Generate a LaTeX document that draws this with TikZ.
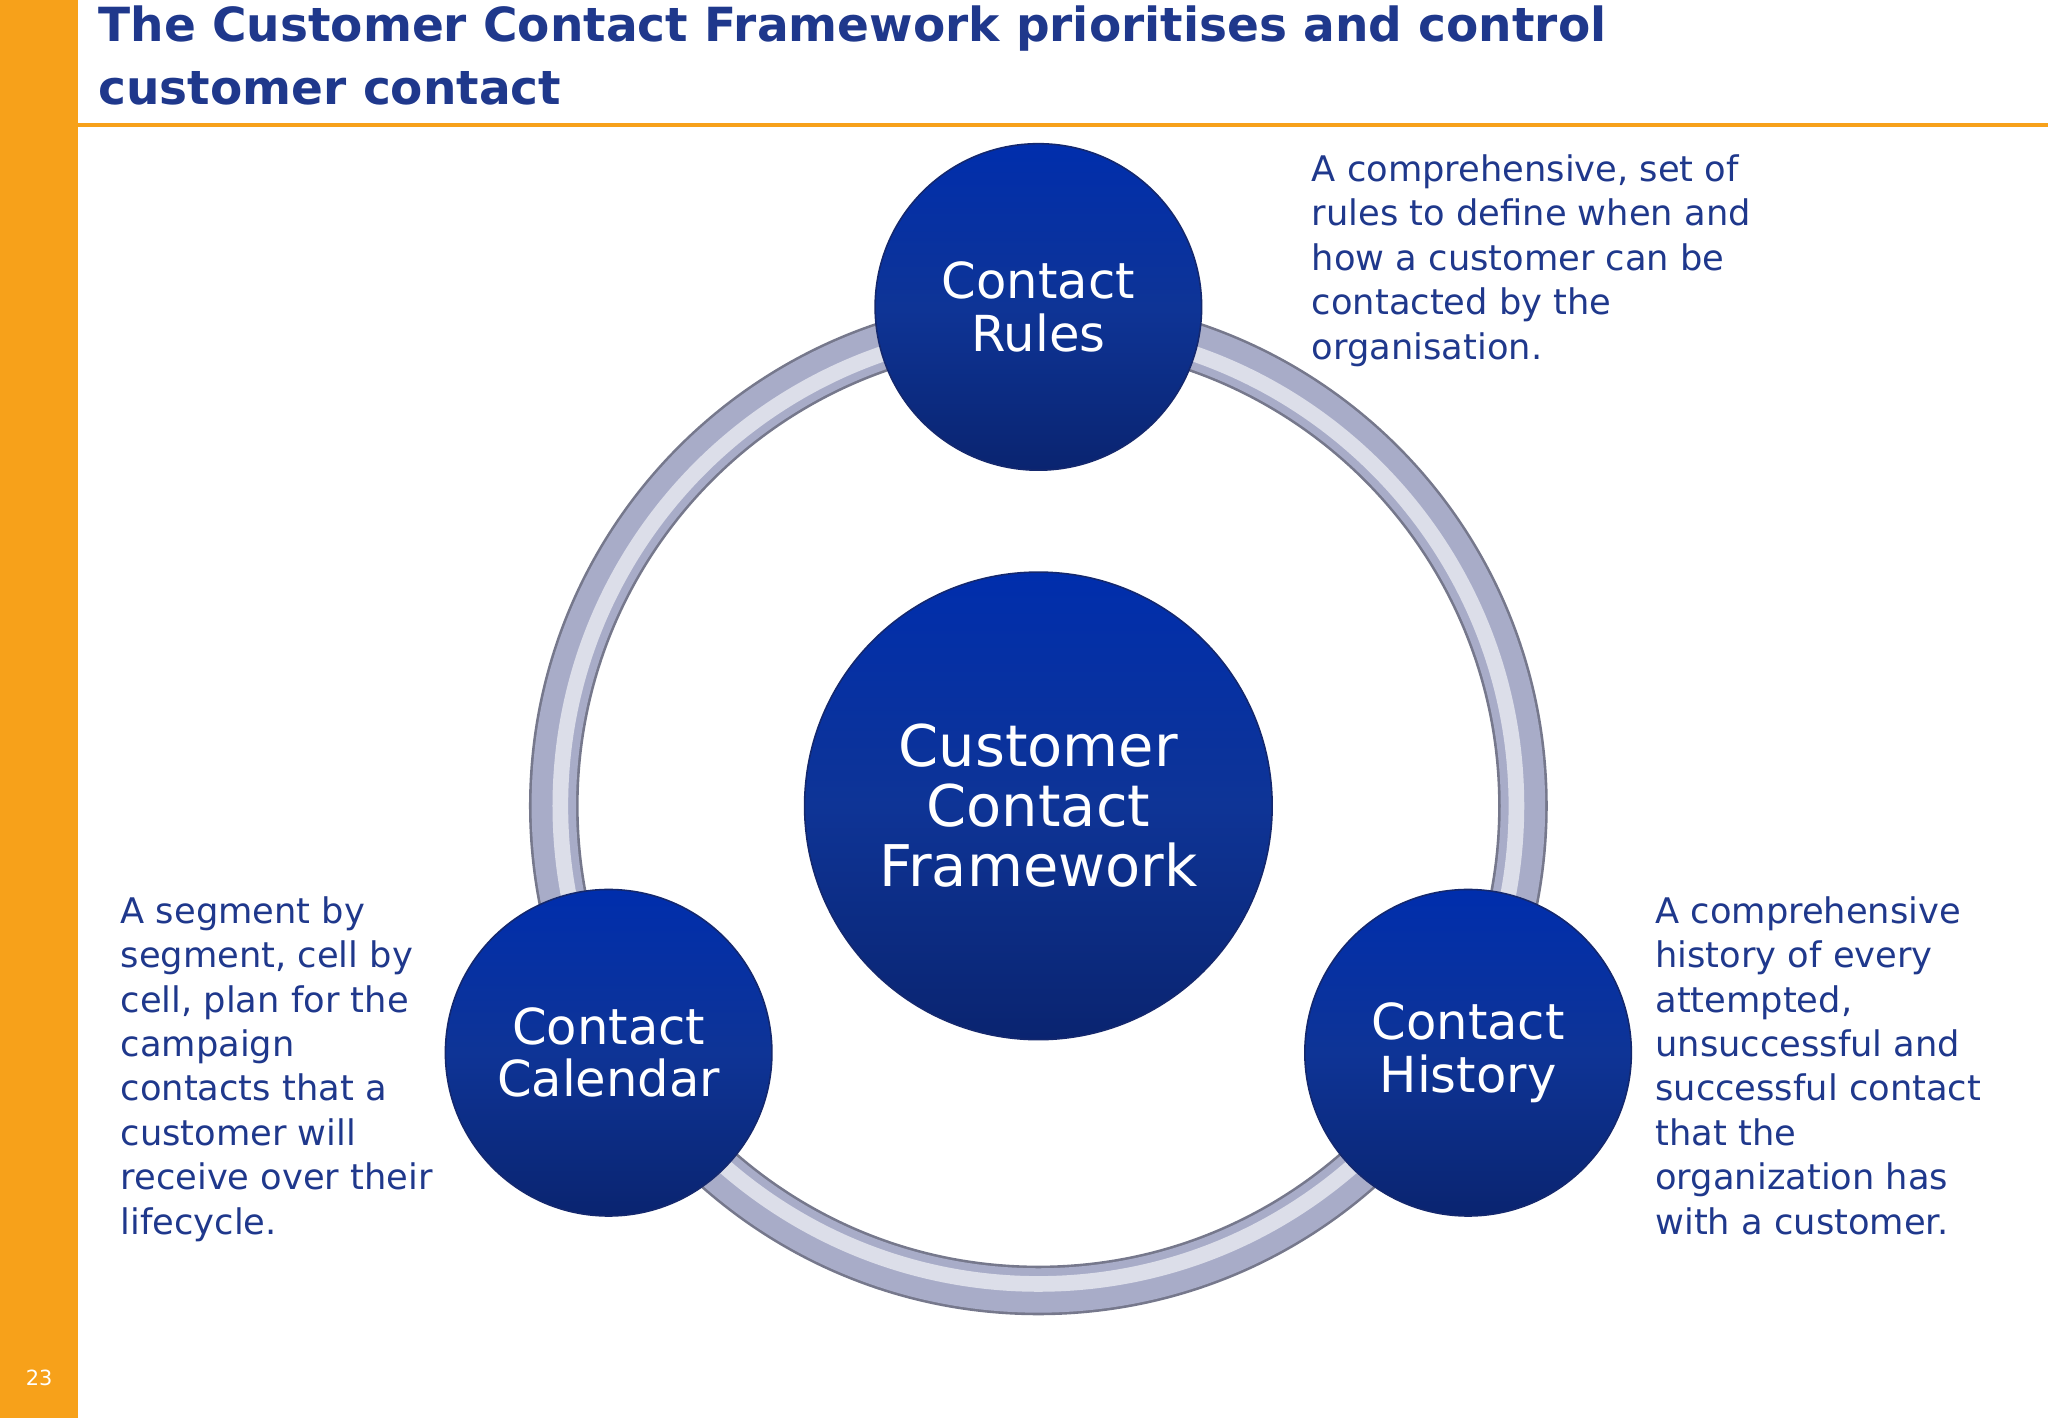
\documentclass[tikz,border=0pt]{standalone}
\usepackage{fontspec}
\setmainfont{DejaVu Sans}
\begin{document}
\begin{tikzpicture}[x=0.5pt,y=-0.5pt,
  ball/.style={circle,top color=blue!55!black!80!cyan!90!blue,bottom color={rgb,255:red,10;green,36;blue,112},
    middle color={rgb,255:red,14;green,52;blue,150},draw={rgb,255:red,20;green,40;blue,110},line width=0.6pt,
    text=white,align=center,inner sep=0pt},
  small/.style={ball,minimum size=125pt,font=\fontsize{19}{20}\selectfont},
  desc/.style={text=tblue,align=left,anchor=north west,inner sep=0pt,font=\fontsize{13.5}{17}\selectfont}]
\definecolor{tblue}{RGB}{31,56,140}
\definecolor{orng}{RGB}{247,161,26}
\definecolor{ring}{RGB}{168,172,200}
\useasboundingbox (0,0) rectangle (1568,1086);
\fill[white] (0,0) rectangle (1568,1086);
\fill[orng] (0,0) rectangle (60,1086);
\draw[orng,line width=1.5pt] (60,96) -- (1568,96);
\node[anchor=north west,inner sep=0pt,text=tblue,font=\bfseries\fontsize{18}{24}\selectfont,align=left] (title) at (75,4)
 {The Customer Contact Framework prioritises and control\\customer contact};
\node[text=white,font=\fontsize{8}{9}\selectfont] (pg) at (30,1055) {23};
\coordinate (c) at (795,617);
\draw[ring!70!black,line width=19pt] (c) circle (371);
\draw[ring,line width=17pt] (c) circle (371);
\draw[ring!40!white,line width=6pt] (c) circle (366);
\node[ball,minimum size=179pt,font=\fontsize{22}{23}\selectfont] (cf) at (c) {Customer\\Contact\\Framework};
\node[small] (cr) at (795,235) {Contact\\Rules};
\node[small] (cc) at (466,806) {Contact\\Calendar};
\node[small] (ch) at (1124,806) {Contact\\History};
\node[desc] (d1) at (1004,118) {A comprehensive, set of\\rules to define when and\\how a customer can be\\contacted by the\\organisation.};
\node[desc] (d2) at (92,686) {A segment by\\segment, cell by\\cell, plan for the\\campaign\\contacts that a\\customer will\\receive over their\\lifecycle.};
\node[desc] (d3) at (1267,686) {A comprehensive\\history of every\\attempted,\\unsuccessful and\\successful contact\\that the\\organization has\\with a customer.};
\end{tikzpicture}
\end{document}
